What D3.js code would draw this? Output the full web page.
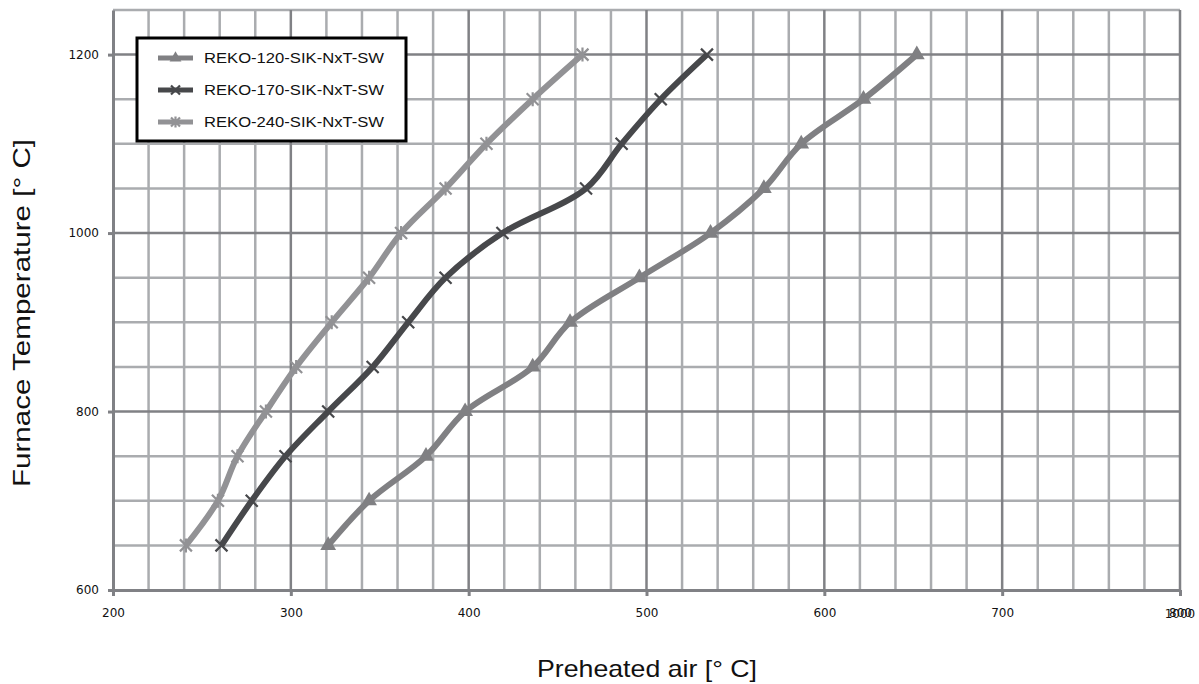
<!DOCTYPE html>
<html>
<head>
<meta charset="utf-8">
<script src="https://cdn.jsdelivr.net/npm/d3@7"></script>
<style>
  body { margin: 0; background: #fff; }
  svg { display: block; }
</style>
</head>
<body>
<div id="chart"></div>
<script>
// Furnace temperature values (y) shared by all series
const temps = [650, 700, 750, 800, 850, 900, 950, 1000, 1050, 1100, 1150, 1200];

// Preheated air values (x)
const reko120 = [321, 344, 376, 398, 436, 457, 496, 536, 566, 587, 622, 652];
const reko170 = [261, 278, 297, 321, 346, 366, 387, 419, 466, 486, 508, 534];
const reko240 = [241, 259, 270, 286, 303, 323, 344, 362, 387, 410, 436, 464];

const seriesNames = ["REKO-120-SIK-NxT-SW", "REKO-170-SIK-NxT-SW", "REKO-240-SIK-NxT-SW"];

const xTickLabels = [200, 300, 400, 500, 600, 700, 800];
const yTickLabels = [600, 800, 1000, 1200];

const width = 1199;
const height = 684;
const margin = { top: 10, right: 19, bottom: 94, left: 113 };

const svg = d3.select("#chart")
  .append("svg")
  .attr("width", width)
  .attr("height", height)
  .style("font-family", "'Liberation Sans', Arial, sans-serif");

const x = d3.scaleLinear()
  .domain([200, 800])
  .range([margin.left, width - margin.right]);

const y = d3.scaleLinear()
  .domain([600, 1250])
  .range([height - margin.bottom, margin.top]);

// grid: minor every 20 / 50, major every 100 / 200
const gridG = svg.append("g");
const xMinor = d3.range(220, 800, 20).filter(v => v % 100 !== 0);
const xMajor = d3.range(300, 801, 100);
const yMinor = d3.range(650, 1251, 50).filter(v => v % 200 !== 0);
const yMajor = [800, 1000, 1200];

gridG.selectAll(".vmin").data(xMinor).join("line")
  .attr("x1", d => x(d)).attr("x2", d => x(d))
  .attr("y1", y(600)).attr("y2", y(1250))
  .attr("stroke", "#aaacaf").attr("stroke-width", 2.5);
gridG.selectAll(".hmin").data(yMinor).join("line")
  .attr("x1", x(200)).attr("x2", x(800))
  .attr("y1", d => y(d)).attr("y2", d => y(d))
  .attr("stroke", "#aaacaf").attr("stroke-width", 2.5);
gridG.selectAll(".vmaj").data(xMajor).join("line")
  .attr("x1", d => x(d)).attr("x2", d => x(d))
  .attr("y1", y(600)).attr("y2", y(1250))
  .attr("stroke", "#808185").attr("stroke-width", 2.5);
gridG.selectAll(".hmaj").data(yMajor).join("line")
  .attr("x1", x(200)).attr("x2", x(800))
  .attr("y1", d => y(d)).attr("y2", d => y(d))
  .attr("stroke", "#808185").attr("stroke-width", 2.5);

// axes
const tickFont = "'DejaVu Sans', Verdana, sans-serif";

const xAxis = g => g
  .attr("transform", `translate(0,${y(600)})`)
  .call(d3.axisBottom(x).tickValues(xTickLabels).tickFormat(d3.format("d"))
    .tickSize(6).tickPadding(12).tickSizeOuter(0))
  .call(g => g.select(".domain").attr("stroke", "#808185").attr("stroke-width", 3))
  .call(g => g.selectAll(".tick line").attr("stroke", "#808185").attr("stroke-width", 3))
  .call(g => g.selectAll("text")
    .style("font-family", tickFont)
    .style("font-size", "12px").attr("fill", "#111"));

const yAxis = g => g
  .attr("transform", `translate(${x(200)},0)`)
  .call(d3.axisLeft(y).tickValues(yTickLabels).tickFormat(d3.format("d"))
    .tickSize(5).tickPadding(9).tickSizeOuter(0))
  .call(g => g.select(".domain").attr("stroke", "#808185").attr("stroke-width", 3))
  .call(g => g.selectAll(".tick line").attr("stroke", "#808185").attr("stroke-width", 3))
  .call(g => g.selectAll("text")
    .style("font-family", tickFont)
    .style("font-size", "12px").attr("fill", "#111"));

svg.append("g").call(xAxis);
svg.append("g").call(yAxis);

// overlapping label at the right end of the x axis
svg.append("text")
  .attr("x", x(800))
  .attr("y", y(600) + 28)
  .attr("text-anchor", "middle")
  .style("font-family", tickFont)
  .style("font-size", "12px")
  .attr("fill", "#111")
  .text("1000");

// axis titles
svg.append("text")
  .attr("x", 647)
  .attr("y", 677)
  .attr("text-anchor", "middle")
  .attr("font-size", "24px")
  .attr("textLength", 220)
  .attr("lengthAdjust", "spacingAndGlyphs")
  .attr("fill", "#111")
  .text("Preheated air [° C]");

svg.append("text")
  .attr("transform", `translate(30,${313}) rotate(-90)`)
  .attr("text-anchor", "middle")
  .attr("font-size", "24px")
  .attr("textLength", 348)
  .attr("lengthAdjust", "spacingAndGlyphs")
  .attr("fill", "#111")
  .text("Furnace Temperature [° C]");

// series
const series = [
  { name: seriesNames[0], values: reko120, color: "#808083", marker: "triangle" },
  { name: seriesNames[1], values: reko170, color: "#47484b", marker: "cross" },
  { name: seriesNames[2], values: reko240, color: "#929295", marker: "star" }
];

const line = d3.line()
  .x(d => x(d[0]))
  .y(d => y(d[1]))
  .curve(d3.curveCatmullRom.alpha(0.5));

function drawMarker(g, type, color, px, py, s = 6) {
  if (type === "triangle") {
    g.append("path")
      .attr("d", d3.symbol(d3.symbolTriangle, s * s * 3)())
      .attr("transform", `translate(${px},${py})`)
      .attr("fill", color);
  } else {
    const p = `M${px - s},${py - s}L${px + s},${py + s}M${px - s},${py + s}L${px + s},${py - s}`
      + (type === "star" ? `M${px},${py - s - 1}L${px},${py + s + 1}` : "");
    g.append("path")
      .attr("d", p)
      .attr("stroke", color)
      .attr("stroke-width", 2.2)
      .attr("fill", "none");
  }
}

series.forEach(s => {
  const pts = s.values.map((v, i) => [v, temps[i]]);
  const g = svg.append("g");
  g.append("path")
    .attr("d", line(pts))
    .attr("fill", "none")
    .attr("stroke", s.color)
    .attr("stroke-width", 6)
    .attr("stroke-linejoin", "round");
  pts.forEach(p => drawMarker(g, s.marker, s.color, x(p[0]), y(p[1])));
});

// legend
const legend = svg.append("g");
legend.append("rect")
  .attr("x", 137)
  .attr("y", 38)
  .attr("width", 269)
  .attr("height", 103)
  .attr("fill", "#fff")
  .attr("stroke", "#000")
  .attr("stroke-width", 3);

series.forEach((s, i) => {
  const ly = 58 + i * 32;
  legend.append("line")
    .attr("x1", 158).attr("x2", 193)
    .attr("y1", ly).attr("y2", ly)
    .attr("stroke", s.color)
    .attr("stroke-width", 5);
  drawMarker(legend, s.marker, s.color, 175.5, ly, 4.5);
  legend.append("text")
    .attr("x", 204)
    .attr("y", ly + 5)
    .attr("font-size", "15px")
    .attr("textLength", 180)
    .attr("lengthAdjust", "spacingAndGlyphs")
    .attr("fill", "#111")
    .text(s.name);
});
</script>
</body>
</html>
